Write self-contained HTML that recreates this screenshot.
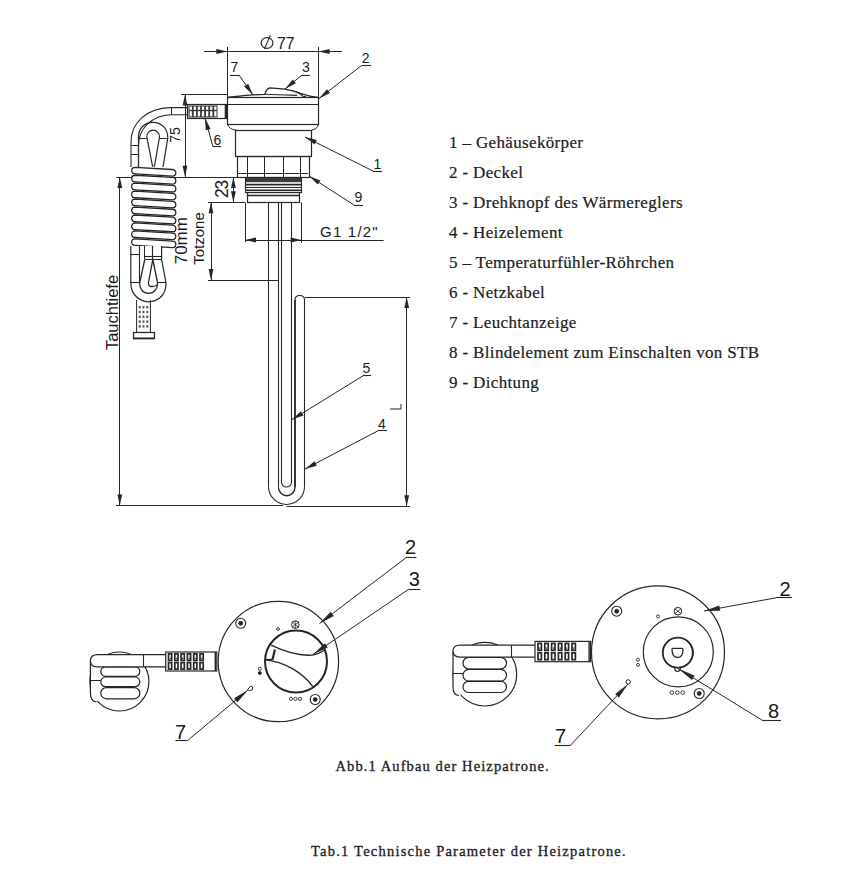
<!DOCTYPE html>
<html><head><meta charset="utf-8"><style>
html,body{margin:0;padding:0;background:#fff;}
body{width:866px;height:875px;overflow:hidden;}
svg{display:block;}
.s{font-family:"Liberation Sans",sans-serif;fill:#1a1a1a;}
.r{font-family:"Liberation Serif",serif;fill:#1c1c1c;stroke:#1c1c1c;stroke-width:0.2px;}
.rb{font-family:"Liberation Serif",serif;fill:#1c1c1c;stroke:#1c1c1c;stroke-width:0.3px;}
</style></head><body>
<svg width="866" height="875" viewBox="0 0 866 875">
<line x1="204.0" y1="51.5" x2="342.0" y2="51.5" stroke="#262626" stroke-width="1.2"/>
<polygon points="227.3,51.5 216.3,53.9 216.3,49.1" fill="#262626"/>
<polygon points="318.6,51.5 329.6,49.1 329.6,53.9" fill="#262626"/>
<line x1="227.5" y1="47.0" x2="227.5" y2="97.0" stroke="#262626" stroke-width="1.0"/>
<line x1="318.5" y1="47.0" x2="318.5" y2="98.0" stroke="#262626" stroke-width="1.0"/>
<ellipse cx="267" cy="43" rx="5.9" ry="5.4" stroke="#262626" stroke-width="1.2" fill="none"/>
<line x1="270.3" y1="35.5" x2="264.3" y2="49.0" stroke="#262626" stroke-width="1.1"/>
<text x="277" y="48.8" font-size="15.8" text-anchor="start" class="s">77</text>
<path d="M227.5,97.5 C235,96.8 244,95.3 252.7,94.9 L264.8,94.3 C265.5,91.5 267.5,88.3 270,87.8 L285,89.2 C291,90.5 295,91.5 298,92.6 C306,95.3 312,96.8 318.6,97.5" stroke="#262626" stroke-width="1.3" fill="none"/>
<path d="M264.8,94.3 C275,94.6 288,95 297,95.4 M294,91 C298,92 301,94 303,96.3 L306,96.6" stroke="#262626" stroke-width="1.1" fill="none"/>
<rect x="227.5" y="97.5" width="91.0" height="27.0" rx="0" stroke="#262626" stroke-width="1.2" fill="none"/>
<line x1="227.3" y1="104.5" x2="318.6" y2="104.5" stroke="#262626" stroke-width="1.0"/>
<path d="M227.3,124 Q229,129.5 236,130 M318.6,124 Q317,129.5 311.5,130" stroke="#262626" stroke-width="1.0" fill="none"/>
<line x1="236.0" y1="130.5" x2="311.5" y2="130.5" stroke="#262626" stroke-width="1.0"/>
<rect x="235.5" y="130.5" width="76.0" height="26.0" rx="0" stroke="#262626" stroke-width="1.2" fill="none"/>
<rect x="237.5" y="156.5" width="72.0" height="21.0" rx="0" stroke="#262626" stroke-width="1.2" fill="none"/>
<line x1="247.5" y1="156.0" x2="247.5" y2="177.0" stroke="#262626" stroke-width="1.0"/>
<line x1="264.5" y1="156.0" x2="264.5" y2="177.0" stroke="#262626" stroke-width="1.0"/>
<line x1="283.5" y1="156.0" x2="283.5" y2="177.0" stroke="#262626" stroke-width="1.0"/>
<line x1="300.5" y1="156.0" x2="300.5" y2="177.0" stroke="#262626" stroke-width="1.0"/>
<line x1="238.0" y1="173.5" x2="308.0" y2="173.5" stroke="#262626" stroke-width="1.0"/>
<rect x="245.5" y="177.5" width="56" height="15" fill="#fff" stroke="#262626" stroke-width="1.1"/>
<rect x="246" y="178" width="55" height="4.2" fill="#3a3a3a"/>
<line x1="245.5" y1="184.6" x2="301.5" y2="184.6" stroke="#262626" stroke-width="1.6"/>
<line x1="245.5" y1="187.5" x2="301.5" y2="187.5" stroke="#262626" stroke-width="1.2"/>
<line x1="245.5" y1="190.3" x2="301.5" y2="190.3" stroke="#262626" stroke-width="1.6"/>
<rect x="247.5" y="192.5" width="52.0" height="10.0" rx="0" stroke="#262626" stroke-width="1.2" fill="none"/>
<line x1="247.5" y1="195.5" x2="299.5" y2="195.5" stroke="#262626" stroke-width="1.3"/>
<line x1="268.5" y1="202.4" x2="268.5" y2="486.5" stroke="#262626" stroke-width="1.1"/>
<line x1="278.5" y1="202.4" x2="278.5" y2="487.5" stroke="#262626" stroke-width="1.1"/>
<line x1="281.5" y1="202.4" x2="281.5" y2="482.0" stroke="#262626" stroke-width="1.1"/>
<line x1="291.5" y1="202.4" x2="291.5" y2="482.0" stroke="#262626" stroke-width="1.1"/>
<path d="M268.5,486.5 A18,18 0 0 0 304.5,486.5" stroke="#262626" stroke-width="1.1" fill="none"/>
<path d="M278.5,487.5 A8.25,8.25 0 0 0 295,487.5" stroke="#262626" stroke-width="1.3" fill="none"/>
<path d="M281.5,482 A5,5 0 0 0 291.5,482" stroke="#262626" stroke-width="1.1" fill="none"/>
<path d="M295,487.5 L295,300 Q295,295.5 299.7,295.5 Q304.5,295.5 304.5,300 L304.5,486.5" stroke="#262626" stroke-width="1.1" fill="none"/>
<line x1="295.0" y1="300.0" x2="295.0" y2="487.5" stroke="#262626" stroke-width="1.7"/>
<line x1="265.0" y1="280.5" x2="278.0" y2="280.5" stroke="#262626" stroke-width="1.0"/>
<line x1="181.0" y1="94.5" x2="227.0" y2="94.5" stroke="#262626" stroke-width="1.0"/>
<line x1="185.5" y1="94.5" x2="185.5" y2="176.8" stroke="#262626" stroke-width="1.0"/>
<polygon points="185.0,94.5 187.4,105.5 182.6,105.5" fill="#262626"/>
<polygon points="185.0,176.8 182.6,165.8 187.4,165.8" fill="#262626"/>
<text x="176.5" y="135" font-size="14" text-anchor="middle" class="s" transform="rotate(-90 176.5 135)" dominant-baseline="middle">75</text>
<line x1="116.5" y1="177.5" x2="245.0" y2="177.5" stroke="#262626" stroke-width="1.1"/>
<line x1="119.5" y1="177.1" x2="119.5" y2="505.5" stroke="#262626" stroke-width="1.0"/>
<polygon points="119.8,177.1 122.2,188.1 117.4,188.1" fill="#262626"/>
<polygon points="119.8,505.5 117.4,494.5 122.2,494.5" fill="#262626"/>
<text x="113.5" y="312.5" font-size="16.5" text-anchor="middle" class="s" transform="rotate(-90 113.5 312.5)" dominant-baseline="middle">Tauchtiefe</text>
<line x1="116.0" y1="505.5" x2="283.0" y2="505.5" stroke="#262626" stroke-width="1.0"/>
<line x1="286.6" y1="506.5" x2="410.0" y2="506.5" stroke="#262626" stroke-width="1.2"/>
<line x1="233.5" y1="177.1" x2="233.5" y2="202.2" stroke="#262626" stroke-width="1.0"/>
<polygon points="233.4,177.1 235.8,188.1 231.0,188.1" fill="#262626"/>
<polygon points="233.4,202.2 231.0,191.2 235.8,191.2" fill="#262626"/>
<text x="223.2" y="189.5" font-size="17.5" text-anchor="middle" class="s" transform="rotate(-90 223.2 189.5)" dominant-baseline="middle" letter-spacing="-1.2">23</text>
<line x1="208.0" y1="202.5" x2="245.0" y2="202.5" stroke="#262626" stroke-width="1.0"/>
<line x1="211.5" y1="202.2" x2="211.5" y2="280.1" stroke="#262626" stroke-width="1.0"/>
<polygon points="211.0,202.2 213.4,213.2 208.6,213.2" fill="#262626"/>
<polygon points="211.0,280.1 208.6,269.1 213.4,269.1" fill="#262626"/>
<line x1="208.0" y1="280.5" x2="265.0" y2="280.5" stroke="#262626" stroke-width="1.0"/>
<text x="199.8" y="238.5" font-size="15" text-anchor="middle" class="s" transform="rotate(-90 199.8 238.5)" dominant-baseline="middle">Totzone</text>
<text x="183" y="240.7" font-size="17" text-anchor="middle" class="s" transform="rotate(-90 183 240.7)" dominant-baseline="middle">70mm</text>
<line x1="245.5" y1="202.4" x2="245.5" y2="242.0" stroke="#262626" stroke-width="1.0"/>
<line x1="301.5" y1="202.4" x2="301.5" y2="242.7" stroke="#262626" stroke-width="1.0"/>
<line x1="245.0" y1="240.5" x2="383.6" y2="240.5" stroke="#262626" stroke-width="1.0"/>
<polygon points="245.0,240.0 256.0,237.6 256.0,242.4" fill="#262626"/>
<polygon points="301.6,240.0 290.6,242.4 290.6,237.6" fill="#262626"/>
<text x="320" y="237" font-size="15" text-anchor="start" class="s" letter-spacing="1.22">G1 1/2"</text>
<line x1="305.0" y1="297.5" x2="410.0" y2="297.5" stroke="#262626" stroke-width="1.0"/>
<line x1="406.5" y1="297.0" x2="406.5" y2="506.3" stroke="#262626" stroke-width="1.0"/>
<polygon points="406.7,297.0 409.1,308.0 404.3,308.0" fill="#262626"/>
<polygon points="406.7,506.3 404.3,495.3 409.1,495.3" fill="#262626"/>
<path d="M390,409 L401,409 L401,404" stroke="#262626" stroke-width="1.0" fill="none"/>
<line x1="230.0" y1="75.5" x2="239.0" y2="75.5" stroke="#262626" stroke-width="1.1"/>
<line x1="239.0" y1="75.0" x2="253.0" y2="95.0" stroke="#262626" stroke-width="1.0"/>
<polygon points="253.0,95.0 244.1,86.6 248.2,83.7" fill="#262626"/>
<text x="234.5" y="72.3" font-size="14" text-anchor="middle" class="s">7</text>
<line x1="302.0" y1="75.5" x2="310.0" y2="75.5" stroke="#262626" stroke-width="1.1"/>
<line x1="302.0" y1="75.0" x2="285.0" y2="89.0" stroke="#262626" stroke-width="1.0"/>
<polygon points="285.0,89.0 292.7,79.4 295.9,83.3" fill="#262626"/>
<text x="306" y="72.3" font-size="14" text-anchor="middle" class="s">3</text>
<line x1="361.7" y1="65.5" x2="371.0" y2="65.5" stroke="#262626" stroke-width="1.1"/>
<line x1="361.7" y1="65.4" x2="319.0" y2="98.5" stroke="#262626" stroke-width="1.0"/>
<polygon points="319.0,98.5 327.0,89.2 330.0,93.1" fill="#262626"/>
<text x="365.7" y="63" font-size="14" text-anchor="middle" class="s">2</text>
<line x1="373.0" y1="171.5" x2="382.0" y2="171.5" stroke="#262626" stroke-width="1.1"/>
<line x1="373.0" y1="171.0" x2="305.0" y2="137.0" stroke="#262626" stroke-width="1.0"/>
<polygon points="305.0,137.0 316.9,140.1 314.6,144.6" fill="#262626"/>
<text x="377.5" y="169" font-size="14" text-anchor="middle" class="s">1</text>
<line x1="354.0" y1="205.5" x2="363.0" y2="205.5" stroke="#262626" stroke-width="1.1"/>
<line x1="354.0" y1="205.0" x2="309.0" y2="176.0" stroke="#262626" stroke-width="1.0"/>
<polygon points="309.0,176.0 320.4,180.4 317.7,184.6" fill="#262626"/>
<text x="358.5" y="202" font-size="14" text-anchor="middle" class="s">9</text>
<line x1="213.0" y1="146.5" x2="221.0" y2="146.5" stroke="#262626" stroke-width="1.1"/>
<line x1="213.0" y1="146.8" x2="205.0" y2="118.0" stroke="#262626" stroke-width="1.0"/>
<polygon points="205.0,118.0 210.6,128.9 205.8,130.2" fill="#262626"/>
<text x="217.3" y="144.5" font-size="14" text-anchor="middle" class="s">6</text>
<line x1="363.0" y1="375.5" x2="371.0" y2="375.5" stroke="#262626" stroke-width="1.1"/>
<line x1="363.0" y1="375.8" x2="292.0" y2="419.6" stroke="#262626" stroke-width="1.0"/>
<polygon points="292.0,419.6 300.9,411.2 303.5,415.4" fill="#262626"/>
<text x="366.5" y="372.8" font-size="14" text-anchor="middle" class="s">5</text>
<line x1="378.0" y1="430.5" x2="387.0" y2="430.5" stroke="#262626" stroke-width="1.1"/>
<line x1="378.0" y1="430.8" x2="305.0" y2="469.0" stroke="#262626" stroke-width="1.0"/>
<polygon points="305.0,469.0 314.5,461.2 316.8,465.7" fill="#262626"/>
<text x="382" y="429.2" font-size="14" text-anchor="middle" class="s">4</text>
<path d="M188,107.6 L170,107.6 C148,108 131,122 131,142 L131,167" stroke="#262626" stroke-width="1.1" fill="none"/>
<path d="M188,114.8 L171,114.8 C152,115.5 138.5,128 138.5,146 L138.5,167" stroke="#262626" stroke-width="1.1" fill="none"/>
<line x1="171.5" y1="107.6" x2="171.5" y2="114.8" stroke="#262626" stroke-width="1.0"/>
<line x1="131.0" y1="145.5" x2="138.5" y2="145.5" stroke="#262626" stroke-width="1.0"/>
<line x1="131.0" y1="154.5" x2="138.5" y2="154.5" stroke="#262626" stroke-width="1.0"/>
<rect x="187.5" y="104.5" width="39" height="14" fill="#fff" stroke="#262626" stroke-width="1.2"/>
<rect x="188.5" y="105.5" width="29" height="12" fill="#3a3a3a"/>
<rect x="189.6" y="106.6" width="2.3" height="3.2" fill="#fff"/>
<rect x="189.6" y="111.2" width="2.3" height="5.2" fill="#fff"/>
<rect x="193.7" y="106.6" width="2.3" height="3.2" fill="#fff"/>
<rect x="193.7" y="111.2" width="2.3" height="5.2" fill="#fff"/>
<rect x="197.8" y="106.6" width="2.3" height="3.2" fill="#fff"/>
<rect x="197.8" y="111.2" width="2.3" height="5.2" fill="#fff"/>
<rect x="201.9" y="106.6" width="2.3" height="3.2" fill="#fff"/>
<rect x="201.9" y="111.2" width="2.3" height="5.2" fill="#fff"/>
<rect x="206.0" y="106.6" width="2.3" height="3.2" fill="#fff"/>
<rect x="206.0" y="111.2" width="2.3" height="5.2" fill="#fff"/>
<rect x="210.1" y="106.6" width="2.3" height="3.2" fill="#fff"/>
<rect x="210.1" y="111.2" width="2.3" height="5.2" fill="#fff"/>
<rect x="214.2" y="106.6" width="2.3" height="3.2" fill="#fff"/>
<rect x="214.2" y="111.2" width="2.3" height="5.2" fill="#fff"/>
<line x1="225.5" y1="104.5" x2="225.5" y2="118.5" stroke="#262626" stroke-width="1.6"/>
<path d="M138.5,167 L138.5,137 C138.5,128 145,122.3 153,122.3 C161,122.3 167.8,128 167.8,138 L163,167" stroke="#262626" stroke-width="1.2" fill="none"/>
<path d="M146.8,137 C146.8,133 149.5,130.2 153,130.2 C156.5,130.2 159.5,133 159.5,137 L154.5,166 L152.5,166 Z" stroke="#262626" stroke-width="1.2" fill="none"/>
<line x1="138.5" y1="138.5" x2="146.8" y2="138.5" stroke="#262626" stroke-width="1.0"/>
<line x1="159.5" y1="138.5" x2="167.5" y2="138.5" stroke="#262626" stroke-width="1.0"/>
<path d="M135,167.30 L172.5,169.50 A3.3,3.3 0 0 1 172.5,176.10 L135,173.90 A3.3,3.3 0 0 1 135,167.30 Z" stroke="#262626" stroke-width="1.3" fill="#fff"/>
<path d="M135,175.25 L172.5,177.45 A3.3,3.3 0 0 1 172.5,184.05 L135,181.85 A3.3,3.3 0 0 1 135,175.25 Z" stroke="#262626" stroke-width="1.3" fill="#fff"/>
<path d="M135,183.20 L172.5,185.40 A3.3,3.3 0 0 1 172.5,192.00 L135,189.80 A3.3,3.3 0 0 1 135,183.20 Z" stroke="#262626" stroke-width="1.3" fill="#fff"/>
<path d="M135,191.15 L172.5,193.35 A3.3,3.3 0 0 1 172.5,199.95 L135,197.75 A3.3,3.3 0 0 1 135,191.15 Z" stroke="#262626" stroke-width="1.3" fill="#fff"/>
<path d="M135,199.10 L172.5,201.30 A3.3,3.3 0 0 1 172.5,207.90 L135,205.70 A3.3,3.3 0 0 1 135,199.10 Z" stroke="#262626" stroke-width="1.3" fill="#fff"/>
<path d="M135,207.05 L172.5,209.25 A3.3,3.3 0 0 1 172.5,215.85 L135,213.65 A3.3,3.3 0 0 1 135,207.05 Z" stroke="#262626" stroke-width="1.3" fill="#fff"/>
<path d="M135,215.00 L172.5,217.20 A3.3,3.3 0 0 1 172.5,223.80 L135,221.60 A3.3,3.3 0 0 1 135,215.00 Z" stroke="#262626" stroke-width="1.3" fill="#fff"/>
<path d="M135,222.95 L172.5,225.15 A3.3,3.3 0 0 1 172.5,231.75 L135,229.55 A3.3,3.3 0 0 1 135,222.95 Z" stroke="#262626" stroke-width="1.3" fill="#fff"/>
<path d="M135,230.90 L172.5,233.10 A3.3,3.3 0 0 1 172.5,239.70 L135,237.50 A3.3,3.3 0 0 1 135,230.90 Z" stroke="#262626" stroke-width="1.3" fill="#fff"/>
<path d="M135,238.85 L172.5,241.05 A3.3,3.3 0 0 1 172.5,247.65 L135,245.45 A3.3,3.3 0 0 1 135,238.85 Z" stroke="#262626" stroke-width="1.3" fill="#fff"/>
<path d="M130.8,246 L130.8,283 C130.8,294 139,301.8 148.8,301.8 C158.5,301.8 166.5,294 166,283 L161.6,259.5 L161.6,246" stroke="#262626" stroke-width="1.2" fill="#fff"/>
<line x1="139.5" y1="246.0" x2="139.5" y2="283.0" stroke="#262626" stroke-width="1.1"/>
<line x1="130.8" y1="254.5" x2="139.2" y2="254.5" stroke="#262626" stroke-width="1.1"/>
<line x1="130.8" y1="282.5" x2="139.6" y2="282.5" stroke="#262626" stroke-width="1.1"/>
<line x1="157.6" y1="282.5" x2="166.0" y2="282.5" stroke="#262626" stroke-width="1.1"/>
<line x1="144.5" y1="246.0" x2="144.5" y2="259.0" stroke="#262626" stroke-width="1.0"/>
<line x1="152.5" y1="246.0" x2="152.5" y2="259.5" stroke="#262626" stroke-width="1.2"/>
<line x1="144.8" y1="256.5" x2="161.6" y2="256.5" stroke="#262626" stroke-width="1.1"/>
<line x1="144.8" y1="259.5" x2="161.6" y2="259.5" stroke="#262626" stroke-width="1.0"/>
<path d="M144.8,259.3 L139.6,283 C139.6,289 143,293.4 148.6,293.4 C154,293.4 157.6,289 157.6,283 L152.8,259.5 L148.4,283 C148.4,285 150,286.5 152,286.5 C155,286.5 157.6,285 157.6,283" stroke="#262626" stroke-width="1.3" fill="none"/>
<path d="M136.6,300 L136.6,332.4 L150.4,332.4 L150.4,300" stroke="#262626" stroke-width="1.0" fill="none"/>
<rect x="138.7" y="306.0" width="2" height="2.4" fill="#555"/>
<rect x="142.5" y="306.0" width="2" height="2.4" fill="#555"/>
<rect x="146.3" y="306.0" width="2" height="2.4" fill="#555"/>
<rect x="138.7" y="310.8" width="2" height="2.4" fill="#555"/>
<rect x="142.5" y="310.8" width="2" height="2.4" fill="#555"/>
<rect x="146.3" y="310.8" width="2" height="2.4" fill="#555"/>
<rect x="138.7" y="315.6" width="2" height="2.4" fill="#555"/>
<rect x="142.5" y="315.6" width="2" height="2.4" fill="#555"/>
<rect x="146.3" y="315.6" width="2" height="2.4" fill="#555"/>
<rect x="138.7" y="320.4" width="2" height="2.4" fill="#555"/>
<rect x="142.5" y="320.4" width="2" height="2.4" fill="#555"/>
<rect x="146.3" y="320.4" width="2" height="2.4" fill="#555"/>
<rect x="138.7" y="325.2" width="2" height="2.4" fill="#555"/>
<rect x="142.5" y="325.2" width="2" height="2.4" fill="#555"/>
<rect x="146.3" y="325.2" width="2" height="2.4" fill="#555"/>
<rect x="133.5" y="332.5" width="21.0" height="6.0" rx="0" stroke="#262626" stroke-width="1.2" fill="none"/>
<line x1="133.0" y1="338.4" x2="154.0" y2="338.4" stroke="#262626" stroke-width="1.8"/>
<circle cx="119.4" cy="681.5" r="29.5" stroke="#262626" stroke-width="1.2" fill="#fff"/>
<path d="M90.4,666.8 L90.4,692.8 Q90.4,702.8 98.4,700.8 L104.8,698.8 L104.8,666.8 Z" fill="#fff" stroke="none"/>
<path d="M90.4,660.6 L90.4,692.8 Q90.4,701.8 96.4,701.8" stroke="#262626" stroke-width="1.2" fill="none"/>
<line x1="90.4" y1="680.5" x2="102.8" y2="680.5" stroke="#262626" stroke-width="1.0"/>
<rect x="100.8" y="666.8" width="39.000000000000014" height="9.5" rx="4.75" stroke="#262626" stroke-width="1.2" fill="#fff"/>
<rect x="100.8" y="677" width="39.000000000000014" height="9.700000000000045" rx="4.850000000000023" stroke="#262626" stroke-width="1.2" fill="#fff"/>
<rect x="100.8" y="687.6" width="39.000000000000014" height="11.199999999999932" rx="5.599999999999966" stroke="#262626" stroke-width="1.2" fill="#fff"/>
<path d="M165.7,654.6 L97.4,654.6 Q90.4,654.6 90.4,660.7 Q90.4,666.8 97.4,666.8 L165.7,666.8" stroke="#262626" stroke-width="1.2" fill="#fff"/>
<line x1="143.5" y1="654.6" x2="143.5" y2="666.8" stroke="#262626" stroke-width="1.1"/>
<rect x="165.7" y="652" width="51.10000000000002" height="19" stroke="#262626" stroke-width="1.2" fill="#fff"/>
<rect x="168.5" y="653.9" width="3.2" height="6.5" fill="none" stroke="#262626" stroke-width="1.7"/>
<rect x="168.5" y="662.6" width="3.2" height="6.5" fill="none" stroke="#262626" stroke-width="1.7"/>
<line x1="170.5" y1="657.7" x2="170.5" y2="658.8" stroke="#262626" stroke-width="1.2"/>
<rect x="174.8" y="653.9" width="3.2" height="6.5" fill="none" stroke="#262626" stroke-width="1.7"/>
<rect x="174.8" y="662.6" width="3.2" height="6.5" fill="none" stroke="#262626" stroke-width="1.7"/>
<line x1="176.5" y1="657.7" x2="176.5" y2="658.8" stroke="#262626" stroke-width="1.2"/>
<rect x="181.1" y="653.9" width="3.2" height="6.5" fill="none" stroke="#262626" stroke-width="1.7"/>
<rect x="181.1" y="662.6" width="3.2" height="6.5" fill="none" stroke="#262626" stroke-width="1.7"/>
<line x1="182.5" y1="657.7" x2="182.5" y2="658.8" stroke="#262626" stroke-width="1.2"/>
<rect x="187.4" y="653.9" width="3.2" height="6.5" fill="none" stroke="#262626" stroke-width="1.7"/>
<rect x="187.4" y="662.6" width="3.2" height="6.5" fill="none" stroke="#262626" stroke-width="1.7"/>
<line x1="189.5" y1="657.7" x2="189.5" y2="658.8" stroke="#262626" stroke-width="1.2"/>
<rect x="193.7" y="653.9" width="3.2" height="6.5" fill="none" stroke="#262626" stroke-width="1.7"/>
<rect x="193.7" y="662.6" width="3.2" height="6.5" fill="none" stroke="#262626" stroke-width="1.7"/>
<line x1="195.5" y1="657.7" x2="195.5" y2="658.8" stroke="#262626" stroke-width="1.2"/>
<rect x="200.0" y="653.9" width="3.2" height="6.5" fill="none" stroke="#262626" stroke-width="1.7"/>
<rect x="200.0" y="662.6" width="3.2" height="6.5" fill="none" stroke="#262626" stroke-width="1.7"/>
<line x1="201.5" y1="657.7" x2="201.5" y2="658.8" stroke="#262626" stroke-width="1.2"/>
<line x1="215.3" y1="652.0" x2="215.3" y2="671.0" stroke="#262626" stroke-width="1.4"/>
<circle cx="278.4" cy="661.5" r="60.2" stroke="#262626" stroke-width="1.2" fill="none"/>
<circle cx="296" cy="661.5" r="31" stroke="#262626" stroke-width="2.0" fill="none"/>
<path d="M271.2,645.2 C283,651 298,656 312.5,655 C317,654.5 321,652.5 324,650.5" stroke="#262626" stroke-width="1.5" fill="none"/>
<path d="M266,659.8 C285,662 303,673 312.7,686.5" stroke="#262626" stroke-width="1.3" fill="none"/>
<path d="M274.9,649.6 L272.5,659.7" stroke="#262626" stroke-width="2.2" fill="none"/>
<line x1="266.0" y1="659.5" x2="272.5" y2="659.5" stroke="#262626" stroke-width="1.3"/>
<circle cx="240.7" cy="623.3" r="5" stroke="#262626" stroke-width="1.1" fill="none"/>
<circle cx="240.7" cy="623.3" r="2" stroke="#262626" stroke-width="0.8" fill="#262626"/>
<circle cx="315.2" cy="699.5" r="5" stroke="#262626" stroke-width="1.1" fill="none"/>
<circle cx="315.2" cy="699.5" r="2" stroke="#262626" stroke-width="0.8" fill="#262626"/>
<circle cx="295.3" cy="624.6" r="3.8" stroke="#262626" stroke-width="1.0" fill="none"/>
<path d="M292,622 L298.6,627.2 M298.6,622 L292,627.2 M295.3,621 L295.3,628.4" stroke="#262626" stroke-width="0.8" fill="none"/>
<circle cx="278" cy="629" r="1.4" stroke="#262626" stroke-width="0.9" fill="none"/>
<circle cx="291" cy="698.8" r="1.6" stroke="#262626" stroke-width="0.9" fill="none"/>
<circle cx="295.5" cy="698.8" r="1.6" stroke="#262626" stroke-width="0.9" fill="none"/>
<circle cx="300" cy="698.8" r="1.6" stroke="#262626" stroke-width="0.9" fill="none"/>
<circle cx="259.8" cy="668.8" r="1.5" stroke="#262626" stroke-width="0.9" fill="none"/>
<circle cx="259.8" cy="673" r="1.5" stroke="#262626" stroke-width="0.9" fill="#262626"/>
<path d="M248,689.5 Q250,685 252.5,687 Q254,690 249.5,691 Z" stroke="#262626" stroke-width="1.0" fill="none"/>
<line x1="405.9" y1="557.5" x2="416.4" y2="557.5" stroke="#262626" stroke-width="1.1"/>
<line x1="405.9" y1="557.8" x2="319.5" y2="623.5" stroke="#262626" stroke-width="1.0"/>
<polygon points="319.5,623.5 330.7,611.7 333.8,615.9" fill="#262626"/>
<text x="410.6" y="554" font-size="20" text-anchor="middle" class="s">2</text>
<line x1="408.3" y1="589.5" x2="420.4" y2="589.5" stroke="#262626" stroke-width="1.1"/>
<line x1="408.3" y1="589.5" x2="313.0" y2="654.5" stroke="#262626" stroke-width="1.0"/>
<polygon points="313.0,654.5 324.8,643.3 327.7,647.6" fill="#262626"/>
<text x="414.2" y="585.6" font-size="20" text-anchor="middle" class="s">3</text>
<line x1="175.4" y1="740.5" x2="187.5" y2="740.5" stroke="#262626" stroke-width="1.1"/>
<line x1="187.5" y1="740.6" x2="248.0" y2="690.0" stroke="#262626" stroke-width="1.0"/>
<polygon points="248.0,690.0 237.4,702.3 234.1,698.3" fill="#262626"/>
<text x="180.5" y="738.5" font-size="20" text-anchor="middle" class="s">7</text>
<circle cx="484.85" cy="674.15" r="31.85" stroke="#262626" stroke-width="1.2" fill="#fff"/>
<path d="M453,657.1 L453,686.5 Q453,696.5 461,694.5 L467,692.5 L467,657.1 Z" fill="#fff" stroke="none"/>
<path d="M453,651.1 L453,686.5 Q453,695.5 459,695.5" stroke="#262626" stroke-width="1.2" fill="none"/>
<line x1="453.0" y1="673.5" x2="465.0" y2="673.5" stroke="#262626" stroke-width="1.0"/>
<rect x="463" y="657.3" width="43.5" height="11.700000000000045" rx="5.850000000000023" stroke="#262626" stroke-width="1.2" fill="#fff"/>
<rect x="463" y="669.4" width="43.5" height="11.600000000000023" rx="5.800000000000011" stroke="#262626" stroke-width="1.2" fill="#fff"/>
<rect x="463" y="681.4" width="43.5" height="11.100000000000023" rx="5.550000000000011" stroke="#262626" stroke-width="1.2" fill="#fff"/>
<path d="M535,645.1 L460,645.1 Q453,645.1 453,651.1 Q453,657.1 460,657.1 L535,657.1" stroke="#262626" stroke-width="1.2" fill="#fff"/>
<line x1="511.5" y1="645.1" x2="511.5" y2="657.1" stroke="#262626" stroke-width="1.1"/>
<rect x="535" y="641.4" width="55.60000000000002" height="20.300000000000068" stroke="#262626" stroke-width="1.2" fill="#fff"/>
<rect x="538.0" y="643.4" width="3.4" height="6.9" fill="none" stroke="#262626" stroke-width="1.7"/>
<rect x="538.0" y="652.8" width="3.4" height="6.9" fill="none" stroke="#262626" stroke-width="1.7"/>
<line x1="539.5" y1="647.5" x2="539.5" y2="648.7" stroke="#262626" stroke-width="1.2"/>
<rect x="544.8" y="643.4" width="3.4" height="6.9" fill="none" stroke="#262626" stroke-width="1.7"/>
<rect x="544.8" y="652.8" width="3.4" height="6.9" fill="none" stroke="#262626" stroke-width="1.7"/>
<line x1="546.5" y1="647.5" x2="546.5" y2="648.7" stroke="#262626" stroke-width="1.2"/>
<rect x="551.6" y="643.4" width="3.4" height="6.9" fill="none" stroke="#262626" stroke-width="1.7"/>
<rect x="551.6" y="652.8" width="3.4" height="6.9" fill="none" stroke="#262626" stroke-width="1.7"/>
<line x1="553.5" y1="647.5" x2="553.5" y2="648.7" stroke="#262626" stroke-width="1.2"/>
<rect x="558.4" y="643.4" width="3.4" height="6.9" fill="none" stroke="#262626" stroke-width="1.7"/>
<rect x="558.4" y="652.8" width="3.4" height="6.9" fill="none" stroke="#262626" stroke-width="1.7"/>
<line x1="560.5" y1="647.5" x2="560.5" y2="648.7" stroke="#262626" stroke-width="1.2"/>
<rect x="565.2" y="643.4" width="3.4" height="6.9" fill="none" stroke="#262626" stroke-width="1.7"/>
<rect x="565.2" y="652.8" width="3.4" height="6.9" fill="none" stroke="#262626" stroke-width="1.7"/>
<line x1="566.5" y1="647.5" x2="566.5" y2="648.7" stroke="#262626" stroke-width="1.2"/>
<rect x="572.0" y="643.4" width="3.4" height="6.9" fill="none" stroke="#262626" stroke-width="1.7"/>
<rect x="572.0" y="652.8" width="3.4" height="6.9" fill="none" stroke="#262626" stroke-width="1.7"/>
<line x1="573.5" y1="647.5" x2="573.5" y2="648.7" stroke="#262626" stroke-width="1.2"/>
<line x1="589.1" y1="641.4" x2="589.1" y2="661.7" stroke="#262626" stroke-width="1.4"/>
<circle cx="658" cy="652.3" r="66.5" stroke="#262626" stroke-width="1.2" fill="none"/>
<circle cx="678.3" cy="651.9" r="35" stroke="#262626" stroke-width="1.2" fill="none"/>
<circle cx="677.8" cy="652.7" r="15" stroke="#262626" stroke-width="1.8" fill="none"/>
<path d="M683,638.5 A14.5,14.5 0 0 1 685,665.5" stroke="#262626" stroke-width="0.9" fill="none"/>
<path d="M672,649 Q672,648.3 673,648.3 L682,648.3 Q683,648.3 683,649.5 Q683,657.5 677.5,657.5 Q672,657.5 672,649 Z" stroke="#262626" stroke-width="1.3" fill="none"/>
<path d="M674.5,666.5 Q674.5,671.5 677.5,671.5 Q680.5,671.5 680.5,666.5" stroke="#262626" stroke-width="1.2" fill="none"/>
<circle cx="616.7" cy="611.2" r="5" stroke="#262626" stroke-width="1.1" fill="none"/>
<circle cx="616.7" cy="611.2" r="2" stroke="#262626" stroke-width="0.8" fill="#262626"/>
<circle cx="699.2" cy="693.5" r="5" stroke="#262626" stroke-width="1.1" fill="none"/>
<circle cx="699.2" cy="693.5" r="2" stroke="#262626" stroke-width="0.8" fill="#262626"/>
<circle cx="677.9" cy="611.2" r="3.8" stroke="#262626" stroke-width="1.0" fill="none"/>
<path d="M674.6,608.6 L681.2,613.8 M681.2,608.6 L674.6,613.8" stroke="#262626" stroke-width="0.8" fill="none"/>
<circle cx="658" cy="616.4" r="1.5" stroke="#262626" stroke-width="0.9" fill="none"/>
<circle cx="671.8" cy="692.6" r="1.8" stroke="#262626" stroke-width="0.9" fill="none"/>
<circle cx="677.3" cy="692.6" r="1.8" stroke="#262626" stroke-width="0.9" fill="none"/>
<circle cx="682.7" cy="692.6" r="1.8" stroke="#262626" stroke-width="0.9" fill="none"/>
<circle cx="638" cy="659.7" r="1.5" stroke="#262626" stroke-width="0.9" fill="none"/>
<circle cx="638" cy="664.9" r="1.5" stroke="#262626" stroke-width="0.9" fill="none"/>
<circle cx="628.2" cy="681.9" r="2.2" stroke="#262626" stroke-width="1.0" fill="none"/>
<line x1="776.0" y1="597.5" x2="792.0" y2="597.5" stroke="#262626" stroke-width="1.1"/>
<line x1="776.0" y1="597.8" x2="704.0" y2="611.0" stroke="#262626" stroke-width="1.0"/>
<polygon points="704.0,611.0 719.3,605.6 720.2,610.7" fill="#262626"/>
<text x="785" y="595.6" font-size="20" text-anchor="middle" class="s">2</text>
<line x1="763.0" y1="720.5" x2="781.0" y2="720.5" stroke="#262626" stroke-width="1.1"/>
<line x1="763.0" y1="720.7" x2="678.0" y2="668.5" stroke="#262626" stroke-width="1.0"/>
<polygon points="678.0,668.5 694.7,675.7 692.0,680.1" fill="#262626"/>
<text x="773.5" y="718.4" font-size="20" text-anchor="middle" class="s">8</text>
<line x1="554.5" y1="745.5" x2="570.7" y2="745.5" stroke="#262626" stroke-width="1.1"/>
<line x1="570.7" y1="745.0" x2="628.0" y2="684.0" stroke="#262626" stroke-width="1.0"/>
<polygon points="628.0,684.0 618.9,697.4 615.2,693.9" fill="#262626"/>
<text x="560.5" y="742.7" font-size="20" text-anchor="middle" class="s">7</text>
<text x="449" y="148.2" font-size="17" text-anchor="start" class="r" letter-spacing="0.35">1 &#8211; Gehäusekörper</text>
<text x="449" y="178.2" font-size="17" text-anchor="start" class="r" letter-spacing="0.35">2 - Deckel</text>
<text x="449" y="208.2" font-size="17" text-anchor="start" class="r" letter-spacing="0.35">3 - Drehknopf des Wärmereglers</text>
<text x="449" y="238.2" font-size="17" text-anchor="start" class="r" letter-spacing="0.35">4 - Heizelement</text>
<text x="449" y="268.2" font-size="17" text-anchor="start" class="r" letter-spacing="0.35">5 &#8211; Temperaturfühler-Röhrchen</text>
<text x="449" y="298.2" font-size="17" text-anchor="start" class="r" letter-spacing="0.35">6 - Netzkabel</text>
<text x="449" y="328.2" font-size="17" text-anchor="start" class="r" letter-spacing="0.35">7 - Leuchtanzeige</text>
<text x="449" y="358.2" font-size="17" text-anchor="start" class="r" letter-spacing="0.35">8 - Blindelement zum Einschalten von STB</text>
<text x="449" y="388.2" font-size="17" text-anchor="start" class="r" letter-spacing="0.35">9 - Dichtung</text>
<text x="335.5" y="770.6" font-size="14.5" text-anchor="start" class="rb" letter-spacing="1.1">Abb.1 Aufbau der Heizpatrone.</text>
<text x="311" y="856.2" font-size="14.5" text-anchor="start" class="rb" letter-spacing="1.22">Tab.1 Technische Parameter der Heizpatrone.</text>
</svg>
</body></html>
